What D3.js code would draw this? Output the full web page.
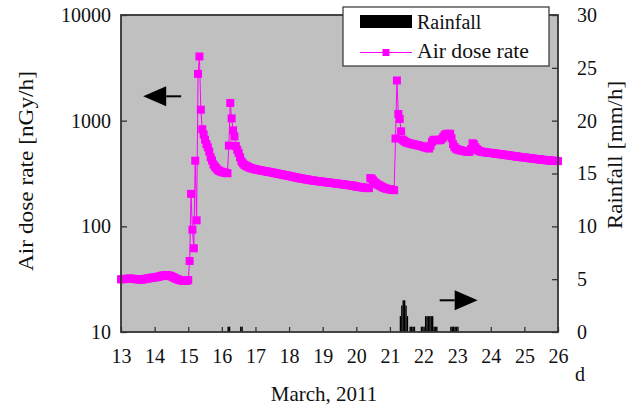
<!DOCTYPE html>
<html>
<head>
<meta charset="utf-8">
<script src="https://cdn.jsdelivr.net/npm/d3@7"></script>
<style>
  html, body { margin: 0; padding: 0; background: #ffffff; }
  svg text { font-family: "Liberation Serif", "DejaVu Serif", serif; fill: #111; }
</style>
</head>
<body>
<svg id="chart" width="638" height="407"></svg>
<script>
// ---------------- data ----------------
const doseStartDay = 13;          // March 13, 00:00
const doseStepHours = 1;          // hourly readings
// Air dose rate [nGy/h], hourly from March 13 00:00 to March 26 00:00
const doseRate = [
  // 13
  31.5,31.6,31.7,31.8,31.8,31.9,32.0,32.0,31.9,31.8,31.7,31.6,31.5,31.5,31.4,31.4,31.5,31.7,31.9,32.1,32.3,32.5,32.6,32.7,
  // 14
  32.8,33.0,33.2,33.4,33.7,34.0,34.2,34.4,34.5,34.5,34.3,34.0,33.6,33.1,32.6,32.1,31.7,31.3,31.0,30.8,30.6,30.5,30.5,30.6,
  // 15
  31,47,203,93,62,418,114,2770,4050,1270,830,740,660,600,560,510,450,420,385,368,355,343,336,331,
  // 16
  327,324,322,320,318,581,1470,1050,810,710,575,530,495,450,413,395,383,375,370,364,358,355,352,349,
  // 17
  346,344,342,340,338,336,334,332,330,329,327,325,323,321,319,317,315,313,311,309,307,305,304,302,
  // 18
  300,298,296,294,292,290,288,286,285,283,282,280,279,277,276,274,273,272,270,269,268,267,266,265,
  // 19
  264,263,262,261,260,259,258,257,256,255,254,253,252,251,250,249,248,247,246,245,244,243,242,240,
  // 20
  238,237,236,235,234,233,232,231,230,230,286,282,272,262,255,250,246,242,238,234,231,228,226,225,
  // 21
  224,222,221,220,677,2400,1156,1038,793,662,645,632,622,615,610,605,600,596,592,588,584,580,576,572,
  // 22
  565,560,555,550,545,580,630,655,660,658,655,652,655,670,700,730,745,750,752,750,680,600,565,545,
  // 23
  535,530,526,522,518,515,512,510,508,510,540,611,595,560,540,525,515,510,507,504,502,500,498,496,
  // 24
  495,493,491,489,487,485,483,481,479,477,475,473,471,469,467,465,463,461,459,457,455,453,451,450,
  // 25
  449,447,445,443,441,440,438,436,434,433,432,430,428,427,425,424,422,421,420,419,418,417,416,415,
  // 26
  414
];
// Rainfall [mm/h]: start time of each hourly bar (day of March) and amount
const rainTimes = [16.167,16.208,16.542,16.583,
  21.292,21.333,21.375,21.417,21.458,21.5,
  21.583,21.625,21.667,21.708,
  21.917,21.958,22.0,22.042,22.083,22.125,22.167,22.208,22.25,22.292,22.333,22.375,
  22.792,22.833,22.875,22.917,22.958,23.0];
const rainValues = [0.5,0.5,0.5,0.5,
  1.5,2.5,3.0,3.0,2.5,1.5,
  0.5,0.5,0.5,0.5,
  0.5,0.5,0.5,1.5,1.5,1.5,1.5,1.5,1.5,0.5,0.5,0.5,
  0.5,0.5,0.5,0.5,0.5,0.5];
const dayTicks = [13,14,15,16,17,18,19,20,21,22,23,24,25,26];
const doseTicks = [10,100,1000,10000];
const rainTicks = [0,5,10,15,20,25,30];
const xLabel = "March, 2011";
const xUnit = "d";
const yLeftLabel = "Air dose rate [nGy/h]";
const yRightLabel = "Rainfall [mm/h]";
const legendLabels = ["Rainfall", "Air dose rate"];
// annotation arrows: tip position (day of March, value on its own axis)
const leftArrow = { day: 13.66, value: 1700 };
const rightArrow = { day: 23.61, value: 3.0 };

// ---------------- layout ----------------
const svg = d3.select("#chart");
const L = 121, R = 558, T = 15, B = 332;
const FS = 20;
const SERIF = '"Liberation Serif", "DejaVu Serif", serif';
const magenta = "#ff00ff";

const x = d3.scaleLinear().domain([13, 26]).range([L, R]);
const yDose = d3.scaleLog().domain([10, 10000]).range([B, T]);
const yRain = d3.scaleLinear().domain([0, 30]).range([B, T]);

// plot background
svg.append("rect").attr("x", L).attr("y", T).attr("width", R - L).attr("height", B - T)
  .attr("fill", "#c0c0c0");

// rainfall bars
const hour = 1 / 24;
svg.append("g").selectAll("rect").data(rainTimes.map((t, i) => ({ t, v: rainValues[i] })))
  .join("rect")
  .attr("x", d => x(d.t))
  .attr("width", d => x(d.t + hour) - x(d.t))
  .attr("y", d => yRain(d.v))
  .attr("height", d => yRain(0) - yRain(d.v))
  .attr("fill", "#000");

// dose series
const dose = doseRate.map((v, i) => ({ t: doseStartDay + i * doseStepHours / 24, v }));
svg.append("path").datum(dose)
  .attr("fill", "none").attr("stroke", magenta).attr("stroke-width", 1)
  .attr("d", d3.line().x(d => x(d.t)).y(d => yDose(d.v)));
const MS = 8;
svg.append("g").selectAll("rect").data(dose).join("rect")
  .attr("x", d => x(d.t) - MS / 2).attr("y", d => yDose(d.v) - MS / 2)
  .attr("width", MS).attr("height", MS).attr("fill", magenta);

// axes
function styleAxis(g) {
  g.attr("font-family", null);
  g.select(".domain").remove();
  g.selectAll(".tick line").attr("stroke", "#333").attr("stroke-width", 1.3);
  g.selectAll(".tick text").style("font-family", SERIF).style("font-size", FS + "px").attr("fill", "#111");
}
svg.append("g").attr("transform", `translate(${L},0)`)
  .call(d3.axisLeft(yDose).tickValues(doseTicks).tickFormat(d3.format("d")).tickSize(-6).tickSizeOuter(0).tickPadding(10))
  .call(styleAxis);
svg.append("g").attr("transform", `translate(${R},0)`)
  .call(d3.axisRight(yRain).tickValues(rainTicks).tickSize(-6).tickSizeOuter(0).tickPadding(19))
  .call(styleAxis);
svg.append("g").attr("transform", `translate(0,${B})`)
  .call(d3.axisBottom(x).tickValues(dayTicks).tickFormat(d3.format("d")).tickSize(-5).tickSizeOuter(0).tickPadding(17))
  .call(styleAxis);

// frame
svg.append("rect").attr("x", L).attr("y", T).attr("width", R - L).attr("height", B - T)
  .attr("fill", "none").attr("stroke", "#333").attr("stroke-width", 1.8);

// axis titles
svg.append("text").attr("x", 324).attr("y", 401).attr("text-anchor", "middle")
  .attr("font-size", 21).text(xLabel);
svg.append("text").attr("x", 580).attr("y", 381).attr("text-anchor", "middle")
  .attr("font-size", FS).text(xUnit);
svg.append("text").attr("transform", `translate(33,171) rotate(-90)`)
  .attr("text-anchor", "middle").attr("font-size", 21)
  .attr("textLength", 200).attr("lengthAdjust", "spacingAndGlyphs").text(yLeftLabel);
svg.append("text").attr("transform", `translate(622,155) rotate(-90)`)
  .attr("text-anchor", "middle").attr("font-size", 21)
  .attr("textLength", 148).attr("lengthAdjust", "spacingAndGlyphs").text(yRightLabel);

// arrows
function arrow(tipX, tipY, dir) {
  const g = svg.append("g");
  const head = 23, half = 10, tail = 15;
  const bx = tipX + dir * head;
  g.append("path").attr("d", `M${tipX},${tipY}L${bx},${tipY - half}L${bx},${tipY + half}Z`).attr("fill", "#000");
  g.append("line").attr("x1", bx).attr("x2", bx + dir * tail).attr("y1", tipY).attr("y2", tipY)
    .attr("stroke", "#000").attr("stroke-width", 2);
}
arrow(x(leftArrow.day), yDose(leftArrow.value), 1);
arrow(x(rightArrow.day), yRain(rightArrow.value), -1);

// legend
const lg = svg.append("g");
lg.append("rect").attr("x", 343).attr("y", 7).attr("width", 206).attr("height", 59)
  .attr("fill", "#fff").attr("stroke", "#333").attr("stroke-width", 1.2);
lg.append("rect").attr("x", 360).attr("y", 15).attr("width", 52).attr("height", 13).attr("fill", "#000");
lg.append("text").attr("x", 417).attr("y", 28.5).attr("font-size", FS).text(legendLabels[0]);
lg.append("line").attr("x1", 360).attr("x2", 412).attr("y1", 52.5).attr("y2", 52.5)
  .attr("stroke", magenta).attr("stroke-width", 1);
lg.append("rect").attr("x", 386 - 3.5).attr("y", 52.5 - 3.5).attr("width", 7).attr("height", 7).attr("fill", magenta);
lg.append("text").attr("x", 417).attr("y", 58).attr("font-size", FS)
  .attr("textLength", 112).attr("lengthAdjust", "spacingAndGlyphs").text(legendLabels[1]);
</script>
</body>
</html>
